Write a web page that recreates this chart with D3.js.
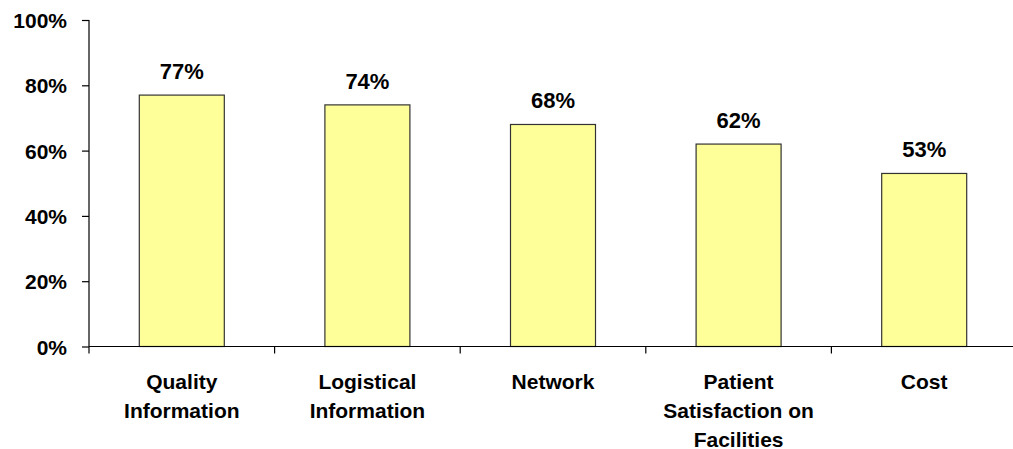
<!DOCTYPE html>
<html>
<head>
<meta charset="utf-8">
<script src="https://cdn.jsdelivr.net/npm/d3@7"></script>
<style>
  body { margin: 0; background: #fff; }
  svg text { font-family: "Liberation Sans", Arial, sans-serif; font-weight: bold; fill: #000; }
</style>
</head>
<body>
<svg id="chart" width="1013" height="449"></svg>
<script>
// Share of respondents per information category
const categories = [
  ["Quality", "Information"],
  ["Logistical", "Information"],
  ["Network"],
  ["Patient", "Satisfaction on", "Facilities"],
  ["Cost"]
];
const values = [77, 74, 68, 62, 53];
const yTicks = [0, 20, 40, 60, 80, 100];

const svg = d3.select("#chart");
const plotLeft = 89, plotRight = 1017, plotTop = 20, plotBottom = 346.5;

const keys = categories.map((c, i) => i);
const xOuter = d3.scaleBand().domain(keys).range([plotLeft, plotRight]);
const y = d3.scaleLinear().domain([0, 100]).range([plotBottom, plotTop]);
const barWidth = 85;

// bars
svg.append("g").selectAll("rect")
  .data(values)
  .join("rect")
  .attr("x", (d, i) => xOuter(i) + xOuter.bandwidth() / 2 - barWidth / 2)
  .attr("width", barWidth)
  .attr("y", d => y(d))
  .attr("height", d => y(0) - y(d))
  .attr("fill", "#FFFF99")
  .attr("stroke", "#333")
  .attr("stroke-width", 1.2);

// value labels
svg.append("g").selectAll("text")
  .data(values)
  .join("text")
  .attr("x", (d, i) => xOuter(i) + xOuter.bandwidth() / 2)
  .attr("y", d => y(d) - 16)
  .attr("text-anchor", "middle")
  .attr("font-size", 22)
  .text(d => d + "%");

// y axis
const yAxis = d3.axisLeft(y).tickValues(yTicks).tickSize(7).tickPadding(15).tickFormat(d => d + "%");
const gy = svg.append("g").attr("transform", `translate(${plotLeft},0)`).call(yAxis);
gy.select(".domain").attr("stroke", "#000").attr("stroke-width", 1.2).attr("d", `M0,${plotTop}V${plotBottom}`);
gy.selectAll(".tick line").attr("stroke", "#000").attr("stroke-width", 1.2);
gy.selectAll(".tick text").attr("font-size", 21).attr("font-family", null).attr("dy", "0.36em");

// x axis baseline with separators between categories
const gx = svg.append("g");
gx.append("line").attr("x1", plotLeft).attr("x2", 1013).attr("y1", plotBottom).attr("y2", plotBottom)
  .attr("stroke", "#000").attr("stroke-width", 1.2);
gx.selectAll("line.sep")
  .data(keys.map(i => xOuter(i)).concat([plotRight]))
  .join("line")
  .attr("class", "sep")
  .attr("x1", d => d).attr("x2", d => d)
  .attr("y1", plotBottom).attr("y2", plotBottom + 7)
  .attr("stroke", "#000").attr("stroke-width", 1.2);

// category labels
const lab = gx.selectAll("text.cat")
  .data(categories)
  .join("text")
  .attr("class", "cat")
  .attr("text-anchor", "middle")
  .attr("font-size", 21)
  .attr("x", (d, i) => xOuter(i) + xOuter.bandwidth() / 2)
  .attr("y", 389);
lab.selectAll("tspan")
  .data(d => d)
  .join("tspan")
  .attr("x", function() { return this.parentNode.getAttribute("x"); })
  .attr("dy", (d, j) => j === 0 ? 0 : 29)
  .text(d => d);
</script>
</body>
</html>
